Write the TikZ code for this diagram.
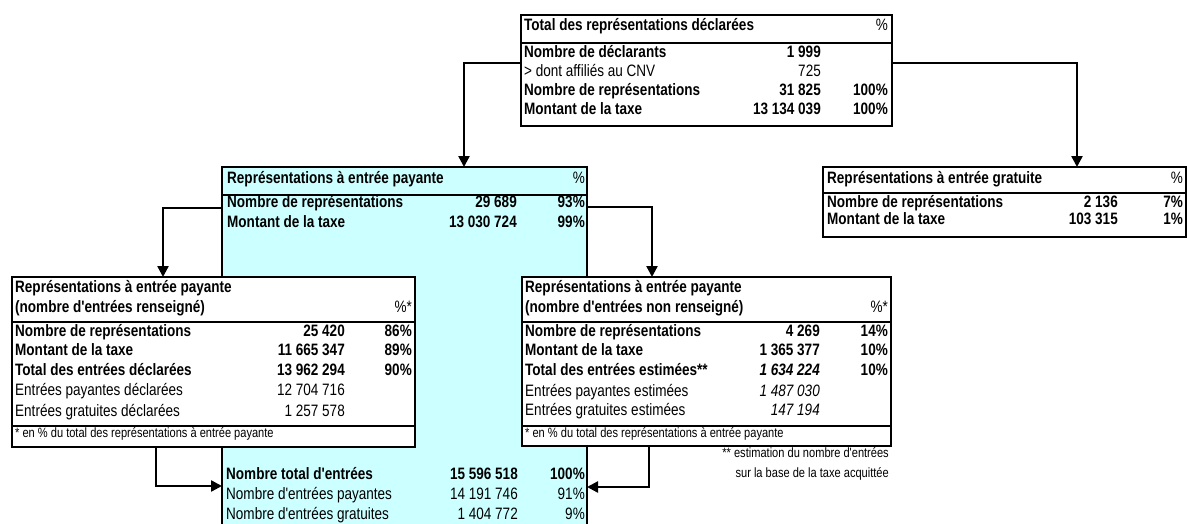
\documentclass[tikz,border=0pt]{standalone}
\usepackage{fontspec}
\newfontfamily\narrowfont{Liberation Sans}[FakeStretch=0.82]
\usetikzlibrary{arrows.meta,calc}
\definecolor{paleturq}{RGB}{204,255,255}
\newcommand\cellfont{\narrowfont\fontsize{16.5}{19}\selectfont}
\newcommand\notefont{\narrowfont\fontsize{13.5}{16}\selectfont}

\begin{document}
\begin{tikzpicture}[x=1pt,y=-1pt,
  frame/.style={draw, line width=2.6pt, anchor=north west, inner sep=0pt, outer sep=0pt},
  sep/.style={line width=2pt},
  conn/.style={line width=2.4pt, -{Triangle[width=11pt,length=11pt]}},
  lab/.style={anchor=mid west, inner sep=0pt, yshift=1.5pt, font=\cellfont},
  val/.style={anchor=mid east, inner sep=0pt, yshift=1.5pt, font=\cellfont},
  blab/.style={lab, font=\cellfont\bfseries},
  bval/.style={val, font=\cellfont\bfseries},
  note/.style={inner sep=0pt, yshift=1.5pt, font=\notefont}]
  \useasboundingbox (0,0) rectangle (1187,523);
  \clip (0,0) rectangle (1187,523);
  \fill[white] (0,0) rectangle (1187,523);

  \node[frame, fill=paleturq, minimum width=365pt, minimum height=373pt] (pay) at (222,167) {};
  \node[frame, fill=white, minimum width=371pt, minimum height=111pt] (tot) at (521,15) {};
  \node[frame, fill=white, minimum width=363pt, minimum height=70pt] (grat) at (823,167) {};
  \node[frame, fill=white, minimum width=403pt, minimum height=170pt] (payr) at (12,277) {};
  \node[frame, fill=white, minimum width=369pt, minimum height=169pt] (paynr) at (522,277) {};

  \draw[sep] (tot.west |- 0,43) -- (tot.east |- 0,43);
  \draw[sep] (pay.west |- 0,195) -- (pay.east |- 0,195);
  \draw[sep] (grat.west |- 0,193) -- (grat.east |- 0,193);
  \draw[sep] (payr.west |- 0,322) -- (payr.east |- 0,322);
  \draw[sep] (payr.west |- 0,426) -- (payr.east |- 0,426);
  \draw[sep] (paynr.west |- 0,322) -- (paynr.east |- 0,322);
  \draw[sep] (paynr.west |- 0,426) -- (paynr.east |- 0,426);

  \node[blab] (t0l) at (524,30) {Total des représentations déclarées};
  \node[val] (t0p) at (888,30) {\%};
  \node[blab] (t1l) at (524,57) {Nombre de déclarants};
  \node[bval] (t1n) at (821,57) {1 999};
  \node[lab] (t2l) at (524,76) {> dont affiliés au CNV};
  \node[val] (t2n) at (821,76) {725};
  \node[blab] (t3l) at (524,95) {Nombre de représentations};
  \node[bval] (t3n) at (821,95) {31 825};
  \node[bval] (t3p) at (888,95) {100\%};
  \node[blab] (t4l) at (524,114) {Montant de la taxe};
  \node[bval] (t4n) at (821,114) {13 134 039};
  \node[bval] (t4p) at (888,114) {100\%};

  \node[blab] (p0l) at (227,183) {Représentations à entrée payante};
  \node[val] (p0p) at (585,183) {\%};
  \node[blab] (p1l) at (227,207) {Nombre de représentations};
  \node[bval] (p1n) at (517,207) {29 689};
  \node[bval] (p1p) at (585,207) {93\%};
  \node[blab] (p2l) at (227,227) {Montant de la taxe};
  \node[bval] (p2n) at (517,227) {13 030 724};
  \node[bval] (p2p) at (585,227) {99\%};
  \node[blab] (p3l) at (226,479) {Nombre total d'entrées};
  \node[bval] (p3n) at (518,479) {15 596 518};
  \node[bval] (p3p) at (585,479) {100\%};
  \node[lab] (p4l) at (226,499) {Nombre d'entrées payantes};
  \node[val] (p4n) at (518,499) {14 191 746};
  \node[val] (p4p) at (585,499) {91\%};
  \node[lab] (p5l) at (226,519) {Nombre d'entrées gratuites};
  \node[val] (p5n) at (518,519) {1 404 772};
  \node[val] (p5p) at (585,519) {9\%};

  \node[blab] (g0l) at (827,183) {Représentations à entrée gratuite};
  \node[val] (g0p) at (1183,183) {\%};
  \node[blab] (g1l) at (827,207) {Nombre de représentations};
  \node[bval] (g1n) at (1118,207) {2 136};
  \node[bval] (g1p) at (1183,207) {7\%};
  \node[blab] (g2l) at (827,224) {Montant de la taxe};
  \node[bval] (g2n) at (1118,224) {103 315};
  \node[bval] (g2p) at (1183,224) {1\%};

  \node[blab] (r0l) at (15,292) {Représentations à entrée payante};
  \node[blab] (r0m) at (15,312) {(nombre d'entrées renseigné)};
  \node[val] (r0p) at (412,312) {\%*};
  \node[blab] (r1l) at (15,336) {Nombre de représentations};
  \node[bval] (r1n) at (345,336) {25 420};
  \node[bval] (r1p) at (412,336) {86\%};
  \node[blab] (r2l) at (15,355) {Montant de la taxe};
  \node[bval] (r2n) at (345,355) {11 665 347};
  \node[bval] (r2p) at (412,355) {89\%};
  \node[blab] (r3l) at (15,375) {Total des entrées déclarées};
  \node[bval] (r3n) at (345,375) {13 962 294};
  \node[bval] (r3p) at (412,375) {90\%};
  \node[lab] (r4l) at (15,395) {Entrées payantes déclarées};
  \node[val] (r4n) at (345,395) {12 704 716};
  \node[lab] (r5l) at (15,416) {Entrées gratuites déclarées};
  \node[val] (r5n) at (345,416) {1 257 578};
  \node[note, anchor=mid west] (r6l) at (15,437) {* en \% du total des représentations à entrée payante};

  \node[blab] (n0l) at (525,292) {Représentations à entrée payante};
  \node[blab] (n0m) at (525,312) {(nombre d'entrées non renseigné)};
  \node[val] (n0p) at (888,312) {\%*};
  \node[blab] (n1l) at (525,336) {Nombre de représentations};
  \node[bval] (n1n) at (820,336) {4 269};
  \node[bval] (n1p) at (888,336) {14\%};
  \node[blab] (n2l) at (525,355) {Montant de la taxe};
  \node[bval] (n2n) at (820,355) {1 365 377};
  \node[bval] (n2p) at (888,355) {10\%};
  \node[blab] (n3l) at (525,375) {Total des entrées estimées**};
  \node[bval] (n3n) at (820,375) {\itshape 1 634 224};
  \node[bval] (n3p) at (888,375) {10\%};
  \node[lab] (n4l) at (525,396) {Entrées payantes estimées};
  \node[val] (n4n) at (820,396) {\itshape 1 487 030};
  \node[lab] (n5l) at (525,415) {Entrées gratuites estimées};
  \node[val] (n5n) at (820,415) {\itshape 147 194};
  \node[note, anchor=mid west] (n6l) at (525,437) {* en \% du total des représentations à entrée payante};

  \node[note, anchor=mid east] (nb1) at (889,457) {** estimation du nombre d'entrées};
  \node[note, anchor=mid east] (nb2) at (889,477) {sur la base de la taxe acquittée};

  \draw[conn] ($(tot.west)+(0,-7.5)$) -| ($(pay.north west)+(242,0)$);
  \draw[conn] ($(tot.east)+(0,-7.5)$) -| ($(grat.north west)+(254,0)$);
  \draw[conn] ($(pay.north west)+(0,41)$) -| ($(payr.north west)+(151,0)$);
  \draw[conn] ($(pay.north east)+(0,40)$) -| ($(paynr.north west)+(130,0)$);
  \draw[conn] ($(payr.south west)+(144,0)$) |- (pay.west |- 0,486);
  \draw[conn] ($(paynr.south west)+(127,0)$) |- (pay.east |- 0,487);
\end{tikzpicture}
\end{document}
